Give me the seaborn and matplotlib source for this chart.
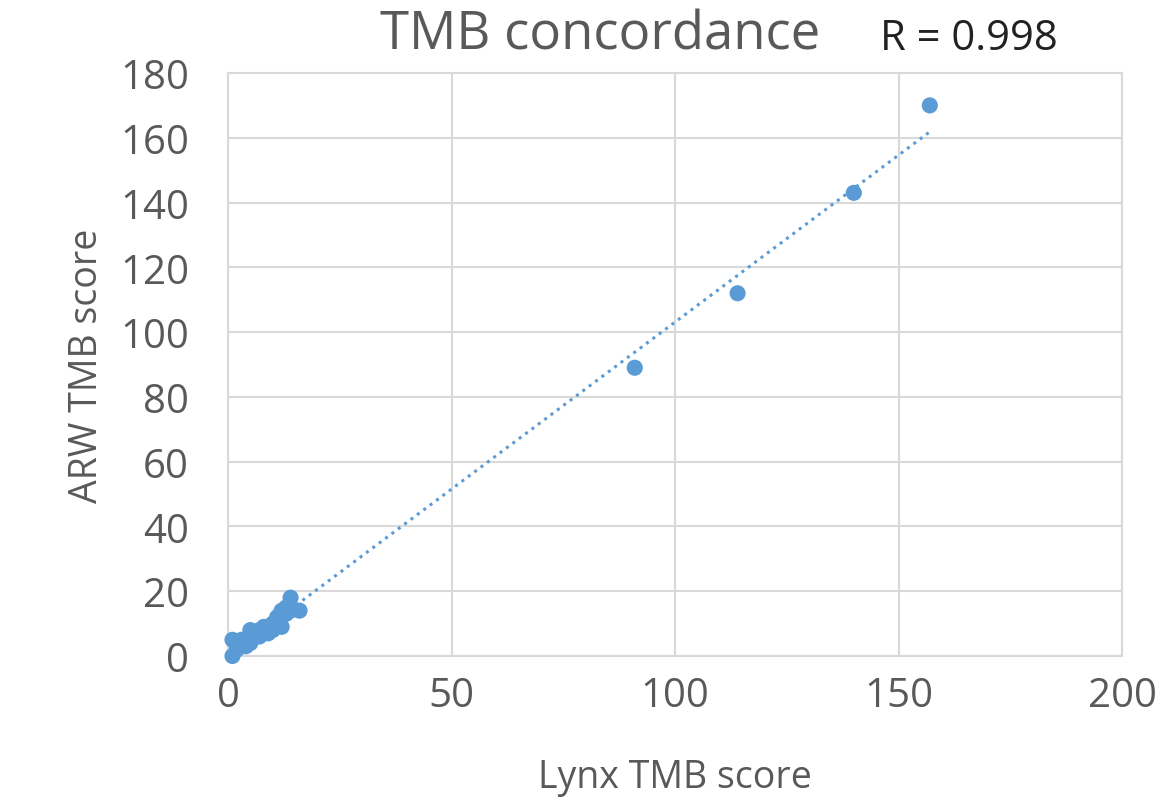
import numpy as np
import pandas as pd
import matplotlib
matplotlib.use("Agg")
import matplotlib.pyplot as plt
import seaborn as sns

lynx = [1, 1, 2, 2, 3, 3, 4, 4, 5, 5, 6, 6, 7, 7, 8, 8, 9, 9, 10, 10, 11, 11, 12, 12, 13, 13, 14, 14, 16,
        91, 114, 140, 157]
arw = [0, 5, 2, 3, 4, 5, 3, 5, 4, 8, 6, 7, 6, 8, 7, 9, 7, 9, 10, 8, 11, 12, 9, 14, 13, 15, 18, 14, 14,
       89, 112, 143, 170]
title = "TMB concordance"
r_text = "R = 0.998"
x_label = "Lynx TMB score"
y_label = "ARW TMB score"
x_ticks = [0, 50, 100, 150, 200]
y_ticks = [0, 20, 40, 60, 80, 100, 120, 140, 160, 180]

df = pd.DataFrame({"lynx": lynx, "arw": arw})

sns.set_theme(style="white")
plt.rcParams["font.family"] = ["Open Sans", "DejaVu Sans"]

fig = plt.figure(figsize=(11.62, 8.03), dpi=100)
ax = fig.add_axes([228/1162, 1-657/803, (1122-228)/1162, (657-74)/803])

blue = "#5b9bd5"
grey = "#d9d9d9"

# trend line
coef = np.polyfit(df["lynx"], df["arw"], 1)
xs = np.array([df["lynx"].min(), df["lynx"].max()])
ax.plot(xs, np.polyval(coef, xs), linestyle=(0, (1, 1.6)), color=blue, lw=2.2, zorder=2)

sns.scatterplot(data=df, x="lynx", y="arw", ax=ax, color=blue, s=135, edgecolor="none",
                zorder=3, clip_on=False)

ax.set_xlim(0, 200)
ax.set_ylim(0, 180)
ax.set_xticks(x_ticks)
ax.set_yticks(y_ticks)
ax.grid(True, color=grey, lw=1.5)
ax.set_axisbelow(True)
for s in ax.spines.values():
    s.set_color(grey)
    s.set_linewidth(1.5)
ax.tick_params(axis="both", labelsize=29, colors="#595959", length=0)
ax.tick_params(axis="x", pad=14)
ax.tick_params(axis="y", pad=28)
ax.set_xlabel(x_label, fontsize=27, color="#595959", labelpad=30)
ax.set_ylabel(y_label, fontsize=27, color="#595959", labelpad=10)

fig.text(600/1162, 1-50/803, title, fontsize=38, color="#595959", ha="center", va="baseline")
fig.text(880/1162, 1-50/803, r_text, fontsize=30, color="#222222", ha="left", va="baseline")

fig.savefig("out.png", dpi=100, facecolor="white")
